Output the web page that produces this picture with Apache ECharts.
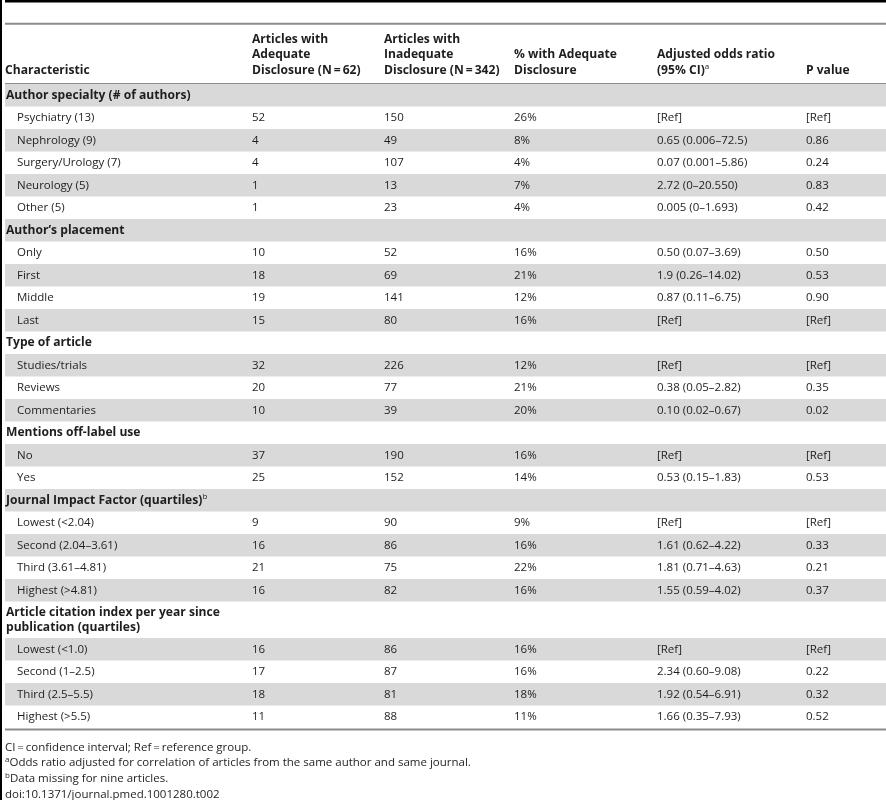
<!DOCTYPE html>
<html><head><meta charset="utf-8">
<script src="https://cdn.jsdelivr.net/npm/echarts@6/dist/echarts.min.js"></script>
<style>html,body{margin:0;padding:0;background:#fff}#c{width:886px;height:800px}</style>
</head><body><div id="c"></div>
<script>
// ---------- data ----------
const rowLabels = [
  "Author specialty (# of authors)",
  "Psychiatry (13)", "Nephrology (9)", "Surgery/Urology (7)", "Neurology (5)", "Other (5)",
  "Author\u2019s placement",
  "Only", "First", "Middle", "Last",
  "Type of article",
  "Studies/trials", "Reviews", "Commentaries",
  "Mentions off-label use",
  "No", "Yes",
  "Journal Impact Factor (quartiles)",
  "Lowest (<2.04)", "Second (2.04\u20133.61)", "Third (3.61\u20134.81)", "Highest (>4.81)",
  "Article citation index per year since\npublication (quartiles)",
  "Lowest (<1.0)", "Second (1\u20132.5)", "Third (2.5\u20135.5)", "Highest (>5.5)"
];
const sectionRows = [0, 6, 11, 15, 18, 23];
const labelSuperscripts = { 18: "b" };
const adequate   = [null, 52, 4, 4, 1, 1, null, 10, 18, 19, 15, null, 32, 20, 10, null, 37, 25, null, 9, 16, 21, 16, null, 16, 17, 18, 11];
const inadequate = [null, 150, 49, 107, 13, 23, null, 52, 69, 141, 80, null, 226, 77, 39, null, 190, 152, null, 90, 86, 75, 82, null, 86, 87, 81, 88];
const pctAdequate = [null, 26, 8, 4, 7, 4, null, 16, 21, 12, 16, null, 12, 21, 20, null, 16, 14, null, 9, 16, 22, 16, null, 16, 16, 18, 11];
const oddsRatio = [null, "[Ref]", "0.65 (0.006\u201372.5)", "0.07 (0.001\u20135.86)", "2.72 (0\u201320.550)", "0.005 (0\u20131.693)",
  null, "0.50 (0.07\u20133.69)", "1.9 (0.26\u201314.02)", "0.87 (0.11\u20136.75)", "[Ref]",
  null, "[Ref]", "0.38 (0.05\u20132.82)", "0.10 (0.02\u20130.67)",
  null, "[Ref]", "0.53 (0.15\u20131.83)",
  null, "[Ref]", "1.61 (0.62\u20134.22)", "1.81 (0.71\u20134.63)", "1.55 (0.59\u20134.02)",
  null, "[Ref]", "2.34 (0.60\u20139.08)", "1.92 (0.54\u20136.91)", "1.66 (0.35\u20137.93)"];
const pValue = [null, "[Ref]", "0.86", "0.24", "0.83", "0.42",
  null, "0.50", "0.53", "0.90", "[Ref]",
  null, "[Ref]", "0.35", "0.02",
  null, "[Ref]", "0.53",
  null, "[Ref]", "0.33", "0.21", "0.37",
  null, "[Ref]", "0.22", "0.32", "0.52"];
const headerLabels = [
  ["", "", "Characteristic"],
  ["Articles with", "Adequate", "Disclosure (N\u2009=\u200962)"],
  ["Articles with", "Inadequate", "Disclosure (N\u2009=\u2009342)"],
  ["", "% with Adequate", "Disclosure"],
  ["", "Adjusted odds ratio", "(95% CI){sup|a}"],
  ["", "", "P value"]
];
const footnotes = [
  "CI\u2009=\u2009confidence interval; Ref\u2009=\u2009reference group.",
  "{sup|a}Odds ratio adjusted for correlation of articles from the same author and same journal.",
  "{sup|b}Data missing for nine articles.",
  "doi:10.1371/journal.pmed.1001280.t002"
];

// ---------- layout ----------
const W = 886;
const FONT = "'Open Sans', 'Noto Sans', sans-serif";
const BODY_SIZE = 11.5, BOLD_SIZE = 12.1;
const INK = '#1e1e1e';
const BAND = '#d9d9d9';
const RULE = '#8c8c8c';
const TABLE_LEFT = 5;
const colX = [17, 252, 384, 514, 657, 806];
const sectionX = 6;
const bodyTop = 84, bodyHeight = 644;
const tallRowUnits = 36.5 / 22.5;
const rowUnits = rowLabels.map(l => l.indexOf('\n') >= 0 ? tallRowUnits : 1);
const rowStart = [];
rowUnits.reduce((acc, u, i) => { rowStart[i] = acc; return acc + u; }, 0);
const totalUnits = rowUnits.reduce((a, b) => a + b, 0);

const richStyles = {
  b: { fontFamily: FONT, fontSize: BOLD_SIZE, fontWeight: 'bold', fill: INK, lineHeight: 15 },
  n: { fontFamily: FONT, fontSize: BODY_SIZE, fontWeight: 'normal', fill: INK, lineHeight: 15 },
  sup: { fontFamily: FONT, fontSize: 8, fontWeight: 'normal', fill: INK, lineHeight: 9, verticalAlign: 'top' }
};

function cellText(x, y, txt, bold) {
  return {
    type: 'text',
    style: {
      x: x, y: y, text: txt, fill: INK,
      fontFamily: FONT, fontSize: bold ? BOLD_SIZE : BODY_SIZE, fontWeight: bold ? 'bold' : 'normal',
      align: 'left', verticalAlign: 'middle'
    },
    silent: true
  };
}

function renderItem(params, api) {
  const i = api.value(0);
  const top = rowStart[i], h = rowUnits[i];
  const p0 = api.coord([TABLE_LEFT, top]);
  const p1 = api.coord([W, top + h]);
  const children = [];
  if (i % 2 === 0) {
    children.push({ type: 'rect', shape: { x: p0[0], y: p0[1], width: p1[0] - p0[0], height: p1[1] - p0[1] },
      style: { fill: BAND }, silent: true });
  }
  const unitPx = api.size([0, 1])[1];
  const cy = p0[1] + unitPx / 2;
  if (sectionRows.indexOf(i) >= 0) {
    const lines = rowLabels[i].split('\n');
    let txt = lines.map(l => '{b|' + l + '}').join('\n');
    if (labelSuperscripts[i]) txt += '{sup|' + labelSuperscripts[i] + '}';
    const lh = 15;
    children.push({
      type: 'text',
      style: {
        x: api.coord([sectionX, 0])[0], y: cy - lh / 2, text: txt, rich: richStyles,
        align: 'left', verticalAlign: 'top', fill: INK
      },
      silent: true
    });
  } else {
    const vals = [rowLabels[i], String(adequate[i]), String(inadequate[i]), pctAdequate[i] + '%', oddsRatio[i], pValue[i]];
    vals.forEach((v, c) => {
      children.push(cellText(api.coord([colX[c], 0])[0], cy, v, false));
    });
  }
  return { type: 'group', children: children };
}

// header and footnote text + rules
const graphics = [];
graphics.push({ type: 'rect', shape: { x: 0, y: 0, width: 2, height: 800 }, style: { fill: '#000' }, silent: true });
graphics.push({ type: 'rect', shape: { x: TABLE_LEFT, y: 0, width: W - TABLE_LEFT, height: 2.5 }, style: { fill: '#000' }, silent: true });
graphics.push({ type: 'rect', shape: { x: TABLE_LEFT, y: 22.8, width: W - TABLE_LEFT, height: 2 }, style: { fill: RULE }, silent: true });
graphics.push({ type: 'rect', shape: { x: TABLE_LEFT, y: 83, width: W - TABLE_LEFT, height: 2 }, style: { fill: RULE }, silent: true });
graphics.push({ type: 'rect', shape: { x: TABLE_LEFT, y: 728.5, width: W - TABLE_LEFT, height: 2 }, style: { fill: RULE }, silent: true });

const headerY = [39.5, 55, 70.5];
const headerX = [5].concat(colX.slice(1));
headerLabels.forEach((lines, c) => {
  lines.forEach((l, r) => {
    if (!l) return;
    const txt = l.indexOf('{sup|') >= 0 ? '{b|' + l.replace('{sup|', '}{sup|') : '{b|' + l + '}';
    graphics.push({ type: 'text', x: headerX[c], y: headerY[r] - 7.5,
      style: { text: txt, rich: richStyles, align: 'left', verticalAlign: 'top' }, silent: true });
  });
});
const footY = [747.7, 763.2, 778.8, 794.3];
footnotes.forEach((f, r) => {
  const txt = f.indexOf('{sup|') === 0 ? f.replace(/^(\{sup\|.\})/, '$1{n|') + '}' : '{n|' + f + '}';
  graphics.push({ type: 'text', x: 5, y: footY[r] - 7.5,
    style: { text: txt, rich: richStyles, align: 'left', verticalAlign: 'top' }, silent: true });
});

const chart = echarts.init(document.getElementById('c'), null, { renderer: 'canvas' });
chart.setOption({
  animation: false,
  backgroundColor: '#fff',
  grid: { left: 0, right: 0, top: bodyTop, height: bodyHeight },
  xAxis: { type: 'value', min: 0, max: W, show: false },
  yAxis: { type: 'value', min: 0, max: totalUnits, inverse: true, show: false },
  graphic: { elements: graphics },
  series: [{
    type: 'custom',
    renderItem: renderItem,
    data: rowLabels.map((_, i) => [i]),
    encode: { x: -1, y: -1 },
    clip: false,
    silent: true
  }]
});
</script></body></html>
